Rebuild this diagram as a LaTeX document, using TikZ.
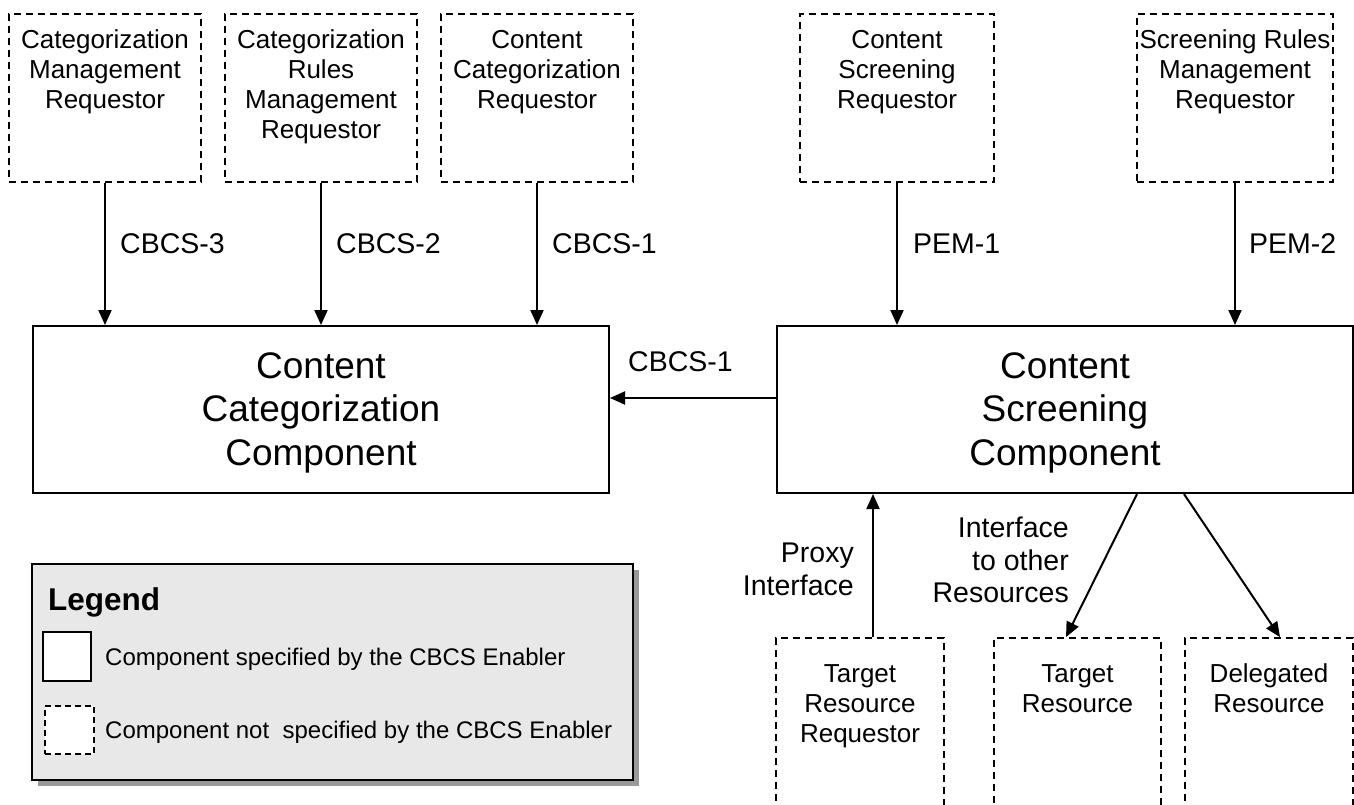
\documentclass[tikz,border=0pt]{standalone}
\usepackage{fontspec}
\setmainfont{Liberation Sans}
\usetikzlibrary{arrows.meta,shadows}
\newcommand\mylines[2][c]{\begin{tabular}{@{}#1@{}}#2\end{tabular}}
\begin{document}
\begin{tikzpicture}[x=1pt,y=-1pt,
  sbox/.style={draw, line width=2pt, inner sep=0pt, fill=white},
  dbox/.style={draw, line width=1.8pt, dash pattern=on 7pt off 5pt, inner sep=0pt},
  arr/.style={line width=2pt, -{Triangle[length=15pt,width=13pt]}},
  boxtext/.style={inner sep=0pt, anchor=north, font=\fontsize{26}{30}\selectfont},
  maintext/.style={inner sep=0pt, anchor=north, font=\fontsize{37}{43.5}\selectfont},
  lbl/.style={inner sep=0pt, font=\fontsize{28.5}{32.5}\selectfont},
  legtext/.style={inner sep=0pt, anchor=base west, font=\fontsize{24}{28}\selectfont},
]
\useasboundingbox (0,0) rectangle (1354,804);
\clip (0,0) rectangle (1354,804);

% top requestor boxes
\node[dbox, minimum width=192pt, minimum height=168pt] (t1) at (105,98) {};
\node[dbox, minimum width=192pt, minimum height=168pt] (t2) at (321,98) {};
\node[dbox, minimum width=192pt, minimum height=168pt] (t3) at (537,98) {};
\node[dbox, minimum width=194pt, minimum height=168pt] (t4) at (897,98) {};
\node[dbox, minimum width=196pt, minimum height=168pt] (t5) at (1235,98) {};
\node[boxtext] (t1x) at (105,27) {\mylines{Categorization\\Management\\Requestor}};
\node[boxtext] (t2x) at (321,27) {\mylines{Categorization\\Rules\\Management\\Requestor}};
\node[boxtext] (t3x) at (537,27) {\mylines{Content\\Categorization\\Requestor}};
\node[boxtext] (t4x) at (897,27) {\mylines{Content\\Screening\\Requestor}};
\node[boxtext] (t5x) at (1235,27) {\mylines{Screening Rules\\Management\\Requestor}};

% main components
\node[sbox, minimum width=576pt, minimum height=167pt] (m1) at (321,409.5) {};
\node[sbox, minimum width=576pt, minimum height=167pt] (m2) at (1065,409.5) {};
\node[maintext] (m1x) at (321,347.5) {\mylines{Content\\Categorization\\Component}};
\node[maintext] (m2x) at (1065,347.5) {\mylines{Content\\Screening\\Component}};

% top arrows
\draw[arr] (t1.south) -- (t1.south |- m1.north);
\draw[arr] (t2.south) -- (t2.south |- m1.north);
\draw[arr] (t3.south) -- (t3.south |- m1.north);
\draw[arr] (t4.south) -- (t4.south |- m2.north);
\draw[arr] (t5.south) -- (t5.south |- m2.north);
\node[lbl, anchor=base west] (l1) at (120,253) {CBCS-3};
\node[lbl, anchor=base west] (l2) at (336,253) {CBCS-2};
\node[lbl, anchor=base west] (l3) at (552,253) {CBCS-1};
\node[lbl, anchor=base west] (l4) at (913,253) {PEM-1};
\node[lbl, anchor=base west] (l5) at (1249,253) {PEM-2};

% horizontal arrow
\coordinate (hy) at (0,398);
\draw[arr] (m2.west |- hy) -- (m1.east |- hy);
\node[lbl, anchor=base west] (lh) at (628,371) {CBCS-1};

% bottom resource boxes
\node[dbox, minimum width=168pt, minimum height=192pt] (b1) at (860,734) {};
\node[dbox, minimum width=167pt, minimum height=192pt] (b2) at (1077.5,734) {};
\node[dbox, minimum width=168pt, minimum height=192pt] (b3) at (1269,734) {};
\node[boxtext] (b1x) at (860,661) {\mylines{Target\\Resource\\Requestor}};
\node[boxtext] (b2x) at (1077.5,661) {\mylines{Target\\Resource}};
\node[boxtext] (b3x) at (1269,661) {\mylines{Delegated\\Resource}};

% bottom arrows
\coordinate (pa) at ([xshift=13pt]b1.north);
\draw[arr] (pa) -- (pa |- m2.south);
\draw[arr] ([xshift=72pt]m2.south) -- ([xshift=-11.5pt]b2.north);
\draw[arr] ([xshift=119pt]m2.south) -- ([xshift=11pt]b3.north);
\node[lbl, anchor=north east] (lp) at (854,540) {\mylines[r]{Proxy\\Interface}};
\begin{scope}
\clip (880,500) rectangle (1100,605);
\node[lbl, anchor=north east] (li) at (1069,515) {\mylines[r]{Interface\\to other\\Resources}};
\end{scope}

% legend
\node[draw, line width=1.8pt, fill=black!9, inner sep=0pt,
  drop shadow={shadow xshift=6pt, shadow yshift=-6pt, fill=black!40, opacity=1},
  minimum width=601pt, minimum height=216pt] (lg) at (332.5,672) {};
\node[inner sep=0pt, anchor=base west, font=\fontsize{31.5}{36}\selectfont\bfseries] (lgt) at (48,610) {Legend};
\node[draw, line width=1.5pt, fill=white, minimum width=48pt, minimum height=49pt, inner sep=0pt] (ls) at (67,656.5) {};
\node[legtext] (lst) at (105,665) {Component specified by the CBCS Enabler};
\node[draw, line width=1.5pt, dash pattern=on 6pt off 4pt, fill=white, minimum width=49pt, minimum height=48pt, inner sep=0pt] (ld) at (69.5,730) {};
\node[legtext] (ldt) at (105,738) {Component not\ \ specified by the CBCS Enabler};
\end{tikzpicture}
\end{document}
